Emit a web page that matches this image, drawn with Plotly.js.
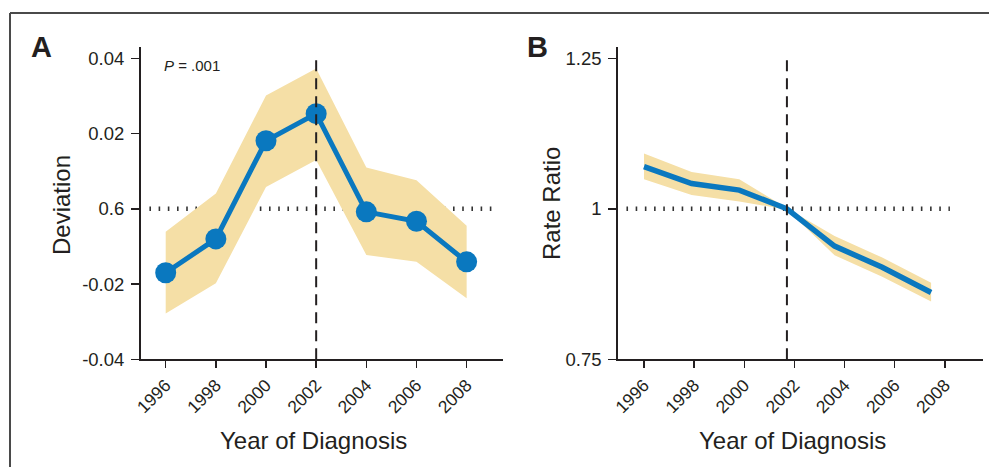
<!DOCTYPE html>
<html>
<head>
<meta charset="utf-8">
<script src="https://cdn.plot.ly/plotly-3.0.1.min.js"></script>
<style>html,body{margin:0;padding:0;background:#fff;}#chart{width:989px;height:467px;}</style>
</head>
<body>
<div id="chart"></div>
<script>
// Panel A data
const years = [1996, 1998, 2000, 2002, 2004, 2006, 2008];
const devMean  = [-0.0170, -0.0080, 0.0181, 0.0253, -0.0008, -0.0033, -0.0141];
const devUpper = [-0.0061, 0.0041, 0.0301, 0.0373, 0.0110, 0.0076, -0.0045];
const devLower = [-0.0278, -0.0198, 0.0058, 0.0130, -0.0123, -0.0141, -0.0238];
const devTickVals = [-0.04, -0.02, 0, 0.02, 0.04];
const devTickText = ["-0.04", "-0.02", "0.6", "0.02", "0.04"];
const breakYearA = 2002;

// Panel B data
const rateYears = [1996, 1997.9, 1999.8, 2001.7, 2003.6, 2005.5, 2007.45];
const rateMean  = [1.070, 1.042, 1.031, 1.000, 0.938, 0.903, 0.861];
const rateUpper = [1.092, 1.061, 1.049, 1.001, 0.955, 0.919, 0.877];
const rateLower = [1.049, 1.023, 1.012, 0.999, 0.923, 0.887, 0.846];
const rateTickVals = [0.75, 1, 1.25];
const rateTickText = ["0.75", "1", "1.25"];
const breakYearB = 2001.7;

const xTickVals = [1996, 1998, 2000, 2002, 2004, 2006, 2008];
const xTickText = ["1996", "1998", "2000", "2002", "2004", "2006", "2008"];

const BLUE = "#0a78bf";
const BAND = "#f5dfa6";
const INK = "#231f20";
const FONT = "Liberation Sans, Arial, sans-serif";

function band(x, up, lo, xa, ya) {
  return {
    x: x.concat(x.slice().reverse()),
    y: up.concat(lo.slice().reverse()),
    xaxis: xa, yaxis: ya,
    type: "scatter", mode: "lines", fill: "toself",
    fillcolor: BAND, line: {width: 0, color: BAND},
    hoverinfo: "skip", showlegend: false
  };
}

const traces = [
  band(years, devUpper, devLower, "x", "y"),
  {x: years, y: devMean, xaxis: "x", yaxis: "y", type: "scatter", mode: "lines+markers",
   line: {color: BLUE, width: 5}, marker: {color: BLUE, size: 21}, showlegend: false},
  band(rateYears, rateUpper, rateLower, "x2", "y2"),
  {x: rateYears, y: rateMean, xaxis: "x2", yaxis: "y2", type: "scatter", mode: "lines",
   line: {color: BLUE, width: 5.5}, showlegend: false}
];

const xCommon = {
  tickvals: xTickVals, ticktext: xTickText, tickangle: -45,
  showline: true, linecolor: INK, linewidth: 2, ticks: "outside", ticklen: 7,
  tickwidth: 1.5, tickcolor: INK, showgrid: false, zeroline: false,
  tickfont: {family: FONT, size: 17.5, color: INK}, fixedrange: true
};
const yCommon = {
  showline: true, linecolor: INK, linewidth: 2, ticks: "outside", ticklen: 8,
  tickwidth: 1.5, tickcolor: INK, showgrid: false, zeroline: false,
  tickfont: {family: FONT, size: 18.5, color: INK}, ticklabelstandoff: 3, fixedrange: true
};

const yDom = [(467 - 359.3) / 467, (467 - 46.7) / 467];

const layout = {
  width: 989, height: 467,
  margin: {l: 0, r: 0, t: 0, b: 0},
  paper_bgcolor: "#fff", plot_bgcolor: "rgba(0,0,0,0)",
  showlegend: false,
  xaxis: Object.assign({}, xCommon, {domain: [141 / 989, 503 / 989], range: [1995.015, 2009.45], anchor: "y"}),
  yaxis: Object.assign({}, yCommon, {domain: yDom, range: [-0.04, 0.0431], tickvals: devTickVals, ticktext: devTickText, anchor: "x"}),
  xaxis2: Object.assign({}, xCommon, {domain: [618.3 / 989, 983 / 989], range: [1994.975, 2009.52], anchor: "y2"}),
  yaxis2: Object.assign({}, yCommon, {domain: yDom, range: [0.75, 1.2693], tickvals: rateTickVals, ticktext: rateTickText, anchor: "x2"}),
  shapes: [
    // outer frame
    {type: "line", xref: "paper", yref: "paper", x0: 10 / 989, x1: 1, y0: (467 - 13) / 467, y1: (467 - 13) / 467, line: {color: "#4a4a4a", width: 2}},
    {type: "line", xref: "paper", yref: "paper", x0: 10 / 989, x1: 10 / 989, y0: 0, y1: (467 - 13) / 467, line: {color: "#4a4a4a", width: 2}},
    // dotted reference lines (below traces)
    {type: "line", xref: "x", yref: "y", x0: 1995.35, x1: 2009.05, y0: 0, y1: 0, layer: "below", line: {color: "#333", width: 4.5, dash: "1.6px,7.6px"}},
    {type: "line", xref: "x2", yref: "y2", x0: 1995.3, x1: 2008.2, y0: 1, y1: 1, layer: "below", line: {color: "#333", width: 4.5, dash: "1.6px,7.6px"}},
    // dashed break lines (above traces)
    {type: "line", xref: "x", yref: "y", x0: breakYearA, x1: breakYearA, y0: -0.04, y1: 0.04, layer: "above", line: {color: INK, width: 2, dash: "11px,7px"}},
    {type: "line", xref: "x2", yref: "y2", x0: breakYearB, x1: breakYearB, y0: 0.75, y1: 1.25, layer: "above", line: {color: INK, width: 2, dash: "11px,7px"}}
  ],
  annotations: [
    {text: "<b>A</b>", xref: "paper", yref: "paper", x: 41 / 989, y: (467 - 47) / 467, xanchor: "center", yanchor: "middle", showarrow: false, font: {family: FONT, size: 29, color: INK}},
    {text: "<b>B</b>", xref: "paper", yref: "paper", x: 537 / 989, y: (467 - 47) / 467, xanchor: "center", yanchor: "middle", showarrow: false, font: {family: FONT, size: 29, color: INK}},
    {text: "<i>P</i> = .001", xref: "paper", yref: "paper", x: 162 / 989, y: (467 - 66) / 467, xanchor: "left", yanchor: "middle", showarrow: false, font: {family: FONT, size: 15, color: INK}},
    {text: "Deviation", xref: "paper", yref: "paper", x: 61 / 989, y: (467 - 205) / 467, xanchor: "center", yanchor: "middle", textangle: -90, showarrow: false, font: {family: FONT, size: 24, color: INK}},
    {text: "Rate Ratio", xref: "paper", yref: "paper", x: 552 / 989, y: (467 - 204) / 467, xanchor: "center", yanchor: "middle", textangle: -90, showarrow: false, font: {family: FONT, size: 24, color: INK}},
    {text: "Year of Diagnosis", xref: "paper", yref: "paper", x: 313 / 989, y: (467 - 440) / 467, xanchor: "center", yanchor: "middle", showarrow: false, font: {family: FONT, size: 24, color: INK}},
    {text: "Year of Diagnosis", xref: "paper", yref: "paper", x: 792 / 989, y: (467 - 440) / 467, xanchor: "center", yanchor: "middle", showarrow: false, font: {family: FONT, size: 24, color: INK}}
  ]
};

Plotly.newPlot("chart", traces, layout, {staticPlot: true, displayModeBar: false});
</script>
</body>
</html>
